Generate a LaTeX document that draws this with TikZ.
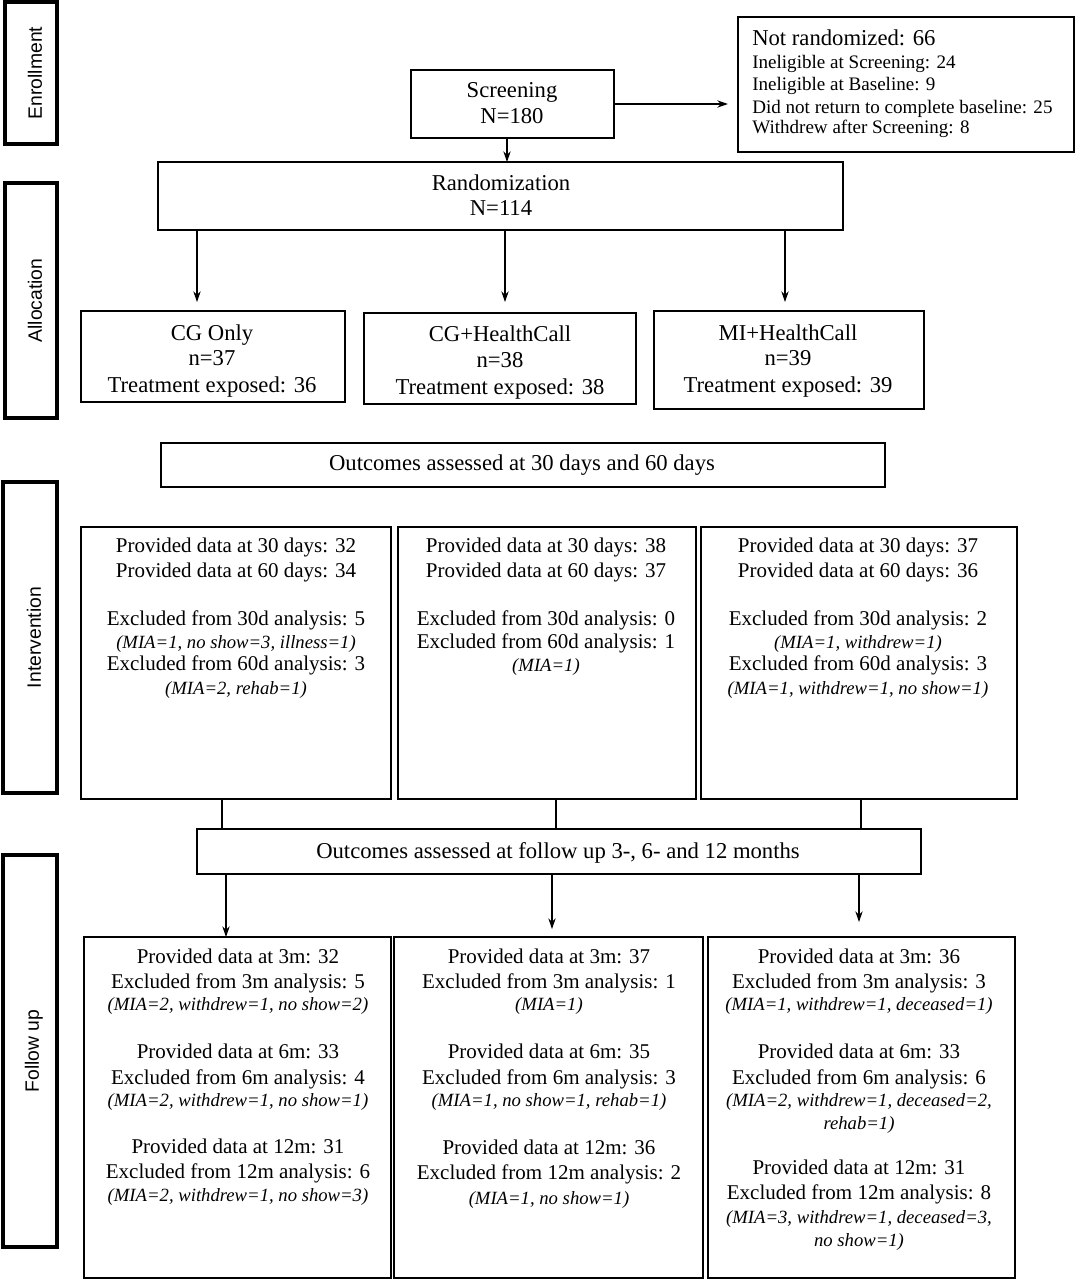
\documentclass[tikz,border=0pt]{standalone}
\usepackage{fontspec}
\setmainfont{Liberation Serif}
\newfontfamily\sidefont{Liberation Sans}
\usetikzlibrary{fit,arrows.meta}
\newcommand\smit{\fontsize{14}{17}\selectfont\itshape}
\begin{document}
\begin{tikzpicture}[x=0.75pt,y=-0.75pt,
  box/.style={draw, line width=1.1pt, inner sep=0pt},
  side/.style={draw, line width=2.4pt, inner sep=0pt},
  tx/.style={font=\fontsize{15.75}{19}\selectfont, inner sep=0pt, anchor=base},
  tb/.style={font=\fontsize{17}{20}\selectfont, inner sep=0pt, anchor=base},
  ts/.style={font=\fontsize{14.3}{17}\selectfont, inner sep=0pt, anchor=base west},
  lbl/.style={font=\sidefont\fontsize{14.5}{17}\selectfont, rotate=90, inner sep=0pt},
  arr/.style={line width=0.8pt, -{Stealth[length=8pt,width=5.5pt]}},
  ln/.style={line width=0.8pt}]
\useasboundingbox (0,0) rectangle (1077,1280);

% side phase boxes
\node[side, fit={(5,2) (57,144)}] (enr) {};
\node[lbl] (enrl) at ([xshift=3pt]enr.center) {Enrollment};
\node[side, fit={(5,183) (57,418)}] (alc) {};
\node[lbl] (alcl) at ([xshift=3pt]alc.center) {Allocation};
\node[side, fit={(3,482) (57,793)}] (itv) {};
\node[lbl] (itvl) at ([xshift=3pt]itv.center) {Intervention};
\node[side, fit={(3,855) (57,1247)}] (fol) {};
\node[lbl] (foll) at ([xshift=3pt]fol.center) {Follow up};

% screening
\node[box, fit={(411,70) (614,138)}] (scr) {};
\node[tb] (scr1) at (512,91+7) {Screening};
\node[tb] (scr2) at (512,117+7) {N=180};

% not randomized
\node[box, fit={(738,17) (1074,152)}] (nr) {};
\node[tb, anchor=base west] (nr1) at (752,39+7) {Not randomized: 66};
\node[ts] (nr2) at (752,63+5.5) {Ineligible at Screening: 24};
\node[ts] (nr3) at (752,85+5.5) {Ineligible at Baseline: 9};
\node[ts] (nr4) at (752,108+5.5) {Did not return to complete baseline: 25};
\node[ts] (nr5) at (752,128+5.5) {Withdrew after Screening: 8};

% randomization
\node[box, fit={(158,162) (843,230)}] (rnd) {};
\node[tb] (rnd1) at (501,184+7) {Randomization};
\node[tb] (rnd2) at (501,208+7) {N=114};

% allocation boxes
\node[box, fit={(81,311) (345,402)}] (cg) {};
\node[tb] (cg1) at (212,333+7) {CG Only};
\node[tb] (cg2) at (212,358+7) {n=37};
\node[tb] (cg3) at (212,385+7) {Treatment exposed: 36};
\node[box, fit={(364,313) (636,404)}] (cgh) {};
\node[tb] (cgh1) at (500,334+7) {CG+HealthCall};
\node[tb] (cgh2) at (500,360+7) {n=38};
\node[tb] (cgh3) at (500,387+7) {Treatment exposed: 38};
\node[box, fit={(654,311) (924,409)}] (mih) {};
\node[tb] (mih1) at (788,333+7) {MI+HealthCall};
\node[tb] (mih2) at (788,358+7) {n=39};
\node[tb] (mih3) at (788,385+7) {Treatment exposed: 39};

% outcomes 30/60
\node[box, fit={(161,443) (885,487)}] (oa) {};
\node[tb] (oat) at (522,463+7) {Outcomes assessed at 30 days and 60 days};

% intervention boxes
\node[box, fit={(81,527) (391,799)}] (i1) {};
\node[box, fit={(398,527) (696,799)}] (i2) {};
\node[box, fit={(701,527) (1017,799)}] (i3) {};
\foreach \y/\t [count=\k] in {
  {546.7/Provided data at 30 days: 32},
  {571.7/Provided data at 60 days: 34},
  {619/Excluded from 30d analysis: 5},
  {642.7/{\smit (MIA=1, no show=3, illness=1)}},
  {664/Excluded from 60d analysis: 3},
  {688/{\smit (MIA=2, rehab=1)}}}
  \node[tx] (ia\k) at (236,\y+6) {\t};
\foreach \y/\t [count=\k] in {
  {546.7/Provided data at 30 days: 38},
  {571.7/Provided data at 60 days: 37},
  {619/Excluded from 30d analysis: 0},
  {642.7/Excluded from 60d analysis: 1},
  {665.7/{\smit (MIA=1)}}}
  \node[tx] (ib\k) at (546,\y+6) {\t};
\foreach \y/\t [count=\k] in {
  {546.7/Provided data at 30 days: 37},
  {571.7/Provided data at 60 days: 36},
  {619/Excluded from 30d analysis: 2},
  {642.7/{\smit (MIA=1, withdrew=1)}},
  {664/Excluded from 60d analysis: 3},
  {688/{\smit (MIA=1, withdrew=1, no show=1)}}}
  \node[tx] (ic\k) at (858,\y+6) {\t};

% outcomes follow up
\node[box, fit={(197,829) (921,874)}] (ob) {};
\node[tb] (obt) at (558,851+7) {Outcomes assessed at follow up 3-, 6- and 12 months};

% follow-up boxes
\node[box, fit={(84,937) (391,1278)}] (f1) {};
\node[box, fit={(394,937) (703,1278)}] (f2) {};
\node[box, fit={(708,937) (1015,1278)}] (f3) {};
\foreach \y/\t [count=\k] in {
  {957/Provided data at 3m: 32},
  {982/Excluded from 3m analysis: 5},
  {1004/{\smit (MIA=2, withdrew=1, no show=2)}},
  {1052/Provided data at 6m: 33},
  {1078/Excluded from 6m analysis: 4},
  {1100/{\smit (MIA=2, withdrew=1, no show=1)}},
  {1147/Provided data at 12m: 31},
  {1172/Excluded from 12m analysis: 6},
  {1195/{\smit (MIA=2, withdrew=1, no show=3)}}}
  \node[tx] (fa\k) at (238,\y+6) {\t};
\foreach \y/\t [count=\k] in {
  {957/Provided data at 3m: 37},
  {982/Excluded from 3m analysis: 1},
  {1004/{\smit (MIA=1)}},
  {1052/Provided data at 6m: 35},
  {1078/Excluded from 6m analysis: 3},
  {1100/{\smit (MIA=1, no show=1, rehab=1)}},
  {1148/Provided data at 12m: 36},
  {1173/Excluded from 12m analysis: 2},
  {1198/{\smit (MIA=1, no show=1)}}}
  \node[tx] (fb\k) at (549,\y+6) {\t};
\foreach \y/\t [count=\k] in {
  {957/Provided data at 3m: 36},
  {982/Excluded from 3m analysis: 3},
  {1004/{\smit (MIA=1, withdrew=1, deceased=1)}},
  {1052/Provided data at 6m: 33},
  {1078/Excluded from 6m analysis: 6},
  {1100/{\smit (MIA=2, withdrew=1, deceased=2,}},
  {1123/{\smit rehab=1)}},
  {1168/Provided data at 12m: 31},
  {1193/Excluded from 12m analysis: 8},
  {1217/{\smit (MIA=3, withdrew=1, deceased=3,}},
  {1240/{\smit no show=1)}}}
  \node[tx] (fc\k) at (859,\y+6) {\t};

% connectors
\draw[arr] (scr.east) -- ([xshift=-7pt]scr.east -| nr.west);
\coordinate (c0) at (507,162);
\draw[arr] (c0 |- scr.south) -- (c0);
\coordinate (a1) at (197,302);
\coordinate (a2) at (505,302);
\coordinate (a3) at (785,302);
\draw[arr] (a1 |- rnd.south) -- (a1);
\draw[arr] (a2 |- rnd.south) -- (a2);
\draw[arr] (a3 |- rnd.south) -- (a3);
\coordinate (b1) at (222,829);
\coordinate (b2) at (556,829);
\coordinate (b3) at (861,829);
\draw[ln] (b1 |- i1.south) -- (b1);
\draw[ln] (b2 |- i2.south) -- (b2);
\draw[ln] (b3 |- i3.south) -- (b3);
\coordinate (d1) at (226,937);
\coordinate (d2) at (552,929);
\coordinate (d3) at (859,922);
\draw[arr] (d1 |- ob.south) -- (d1);
\draw[arr] (d2 |- ob.south) -- (d2);
\draw[arr] (d3 |- ob.south) -- (d3);
\end{tikzpicture}
\end{document}
